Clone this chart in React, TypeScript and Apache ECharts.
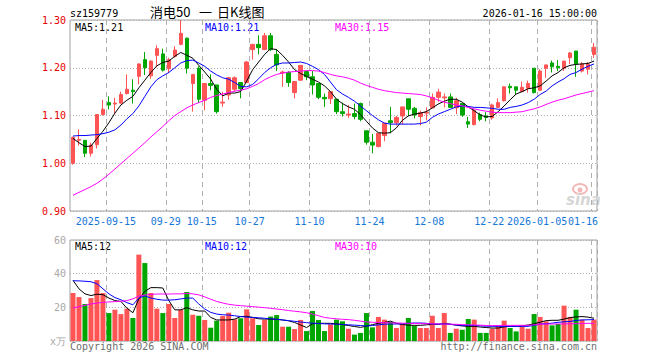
import React, { useEffect, useRef } from 'react';
import * as echarts from 'echarts';

const dates = [
  '2025-09-05','2025-09-08','2025-09-09','2025-09-10','2025-09-11','2025-09-12','2025-09-15','2025-09-16','2025-09-17','2025-09-18',
  '2025-09-19','2025-09-22','2025-09-23','2025-09-24','2025-09-25','2025-09-26','2025-09-29','2025-09-30','2025-10-09','2025-10-10',
  '2025-10-13','2025-10-14','2025-10-15','2025-10-16','2025-10-17','2025-10-20','2025-10-21','2025-10-22','2025-10-23','2025-10-24',
  '2025-10-27','2025-10-28','2025-10-29','2025-10-30','2025-10-31','2025-11-03','2025-11-04','2025-11-05','2025-11-06','2025-11-07',
  '2025-11-10','2025-11-11','2025-11-12','2025-11-13','2025-11-14','2025-11-17','2025-11-18','2025-11-19','2025-11-20','2025-11-21',
  '2025-11-24','2025-11-25','2025-11-26','2025-11-27','2025-11-28','2025-12-01','2025-12-02','2025-12-03','2025-12-04','2025-12-05',
  '2025-12-08','2025-12-09','2025-12-10','2025-12-11','2025-12-12','2025-12-15','2025-12-16','2025-12-17','2025-12-18','2025-12-19',
  '2025-12-22','2025-12-23','2025-12-24','2025-12-25','2025-12-26','2025-12-29','2025-12-30','2025-12-31','2026-01-05','2026-01-06',
  '2026-01-07','2026-01-08','2026-01-09','2026-01-12','2026-01-13','2026-01-14','2026-01-15','2026-01-16'
];

const tickDates = ['2025-09-15','2025-09-29','2025-10-15','2025-10-27','2025-11-10','2025-11-24','2025-12-08','2025-12-22','2026-01-05','2026-01-16'];
const tickLabels = ['2025-09-15','09-29','10-15','10-27','11-10','11-24','12-08','12-22','2026-01-05','01-16'];

const open = [
  1.000,1.048,1.048,1.021,1.039,1.102,1.127,1.124,1.126,1.146,
  1.153,1.182,1.217,1.183,1.226,1.229,1.198,1.224,1.249,1.262,
  1.167,1.199,1.132,1.167,1.164,1.126,1.143,1.155,1.169,1.169,
  1.238,1.249,1.238,1.267,1.228,1.189,1.190,1.148,1.174,1.192,
  1.181,1.167,1.138,1.135,1.134,1.108,1.101,1.104,1.125,1.068,
  1.044,1.035,1.058,1.089,1.085,1.099,1.135,1.115,1.098,1.105,
  1.116,1.138,1.137,1.139,1.116,1.125,1.087,1.081,1.102,1.099,
  1.095,1.117,1.131,1.161,1.160,1.150,1.157,1.199,1.153,1.199,
  1.210,1.203,1.199,1.221,1.235,1.193,1.197,1.228
];
const close = [
  1.054,1.050,1.021,1.038,1.102,1.113,1.122,1.126,1.144,1.155,
  1.150,1.208,1.200,1.214,1.240,1.195,1.217,1.237,1.272,1.199,
  1.186,1.134,1.167,1.163,1.108,1.128,1.179,1.179,1.156,1.212,
  1.249,1.242,1.267,1.238,1.206,1.191,1.169,1.171,1.205,1.181,
  1.164,1.138,1.135,1.150,1.108,1.104,1.103,1.098,1.092,1.044,
  1.038,1.063,1.084,1.085,1.096,1.118,1.113,1.101,1.106,1.107,
  1.138,1.149,1.139,1.117,1.131,1.101,1.082,1.111,1.092,1.096,
  1.122,1.127,1.160,1.158,1.153,1.159,1.167,1.148,1.193,1.206,
  1.202,1.200,1.214,1.231,1.208,1.208,1.208,1.243
];
const low = [
  0.997,1.037,1.013,1.014,1.031,1.100,1.113,1.103,1.124,1.144,
  1.125,1.165,1.185,1.177,1.201,1.192,1.189,1.221,1.247,1.188,
  1.108,1.126,1.111,1.153,1.104,1.118,1.133,1.150,1.136,1.168,
  1.217,1.228,1.237,1.235,1.193,1.160,1.160,1.136,1.173,1.174,
  1.144,1.134,1.118,1.124,1.103,1.098,1.095,1.092,1.088,1.039,
  1.021,1.033,1.046,1.063,1.079,1.081,1.099,1.094,1.079,1.090,
  1.116,1.129,1.117,1.116,1.103,1.097,1.074,1.079,1.088,1.088,
  1.091,1.116,1.129,1.146,1.143,1.150,1.148,1.146,1.151,1.179,
  1.190,1.193,1.193,1.208,1.181,1.190,1.186,1.221
];
const high = [
  1.056,1.071,1.048,1.043,1.103,1.133,1.140,1.137,1.150,1.186,
  1.176,1.209,1.233,1.215,1.247,1.240,1.221,1.245,1.300,1.263,
  1.187,1.203,1.168,1.186,1.164,1.150,1.181,1.182,1.169,1.214,
  1.250,1.268,1.273,1.273,1.238,1.194,1.193,1.172,1.205,1.194,
  1.193,1.167,1.146,1.150,1.134,1.127,1.122,1.125,1.127,1.068,
  1.061,1.063,1.084,1.118,1.099,1.118,1.135,1.118,1.110,1.117,
  1.146,1.156,1.146,1.146,1.137,1.125,1.097,1.113,1.106,1.107,
  1.125,1.136,1.161,1.167,1.160,1.171,1.173,1.199,1.197,1.206,
  1.215,1.216,1.214,1.233,1.235,1.212,1.212,1.252
];

const ma5 = [
  1.052,1.043,1.035,1.036,1.052,1.067,1.085,1.105,1.122,1.132,
  1.140,1.158,1.174,1.190,1.204,1.211,1.214,1.224,1.232,1.226,
  1.220,1.205,1.191,1.176,1.155,1.141,1.147,1.147,1.150,1.172,
  1.196,1.212,1.228,1.240,1.238,1.226,1.212,1.196,1.188,1.182,
  1.176,1.170,1.162,1.150,1.134,1.125,1.118,1.113,1.102,1.088,
  1.074,1.064,1.063,1.064,1.074,1.090,1.099,1.103,1.105,1.108,
  1.116,1.124,1.130,1.134,1.134,1.128,1.118,1.110,1.101,1.097,
  1.098,1.108,1.120,1.133,1.145,1.150,1.156,1.158,1.162,1.172,
  1.183,1.190,1.200,1.205,1.207,1.208,1.209,1.214
];
const ma10 = [
  1.057,1.058,1.058,1.059,1.060,1.062,1.065,1.070,1.080,1.093,
  1.104,1.120,1.140,1.160,1.175,1.183,1.190,1.200,1.210,1.215,
  1.216,1.210,1.203,1.193,1.185,1.179,1.176,1.169,1.161,1.160,
  1.165,1.177,1.190,1.200,1.207,1.210,1.210,1.211,1.212,1.209,
  1.203,1.196,1.186,1.170,1.154,1.145,1.138,1.130,1.120,1.110,
  1.100,1.091,1.084,1.082,1.082,1.082,1.082,1.082,1.083,1.086,
  1.096,1.103,1.108,1.113,1.118,1.120,1.119,1.117,1.117,1.116,
  1.115,1.113,1.113,1.117,1.119,1.122,1.127,1.134,1.144,1.151,
  1.162,1.170,1.177,1.186,1.190,1.197,1.203,1.208
];
const ma30 = [
  0.933,0.939,0.945,0.951,0.958,0.967,0.977,0.988,0.999,1.010,
  1.021,1.032,1.043,1.055,1.066,1.077,1.089,1.100,1.108,1.116,
  1.122,1.127,1.132,1.138,1.142,1.145,1.148,1.151,1.153,1.156,
  1.161,1.167,1.175,1.181,1.186,1.189,1.191,1.192,1.193,1.194,
  1.194,1.193,1.190,1.186,1.183,1.181,1.178,1.174,1.168,1.163,
  1.159,1.155,1.152,1.150,1.148,1.147,1.146,1.145,1.144,1.141,
  1.137,1.132,1.128,1.125,1.122,1.120,1.117,1.114,1.111,1.109,
  1.107,1.106,1.106,1.106,1.107,1.108,1.111,1.114,1.118,1.123,
  1.128,1.132,1.135,1.139,1.143,1.146,1.149,1.152
];

const volume = [
  28.5,26.1,22.0,25.5,36.2,28.5,16.6,18.6,16.0,19.2,
  13.7,51.3,46.3,28.5,19.2,16.6,22.0,13.7,18.6,29.1,
  15.6,15.0,12.5,7.9,12.1,14.9,16.8,12.9,13.5,18.8,
  13.5,9.5,12.5,14.5,15.4,8.5,8.5,7.1,12.5,5.9,
  17.8,12.5,5.9,9.9,12.7,11.7,7.3,3.8,4.8,16.6,
  8.1,14.3,12.7,11.3,7.7,10.1,13.7,9.1,7.7,7.7,
  15.0,7.7,16.6,4.8,7.3,6.7,13.1,12.7,4.8,4.8,
  7.3,8.7,12.1,7.7,5.7,8.7,7.3,16.0,14.3,11.7,
  9.3,10.1,21.0,14.3,18.6,12.7,7.7,12.7
];
const vma5 = [
  36.0,31.0,28.0,27.0,27.8,27.5,25.5,24.0,23.5,19.5,
  16.8,25.0,29.5,31.7,31.7,31.5,24.0,18.5,18.5,19.8,
  18.5,17.8,17.8,14.0,12.5,12.5,12.5,13.0,14.5,14.7,
  14.0,13.2,13.0,13.0,12.9,12.5,12.0,11.0,9.5,8.0,
  10.2,10.5,10.5,10.5,10.2,9.8,9.2,8.6,8.1,8.8,
  9.7,10.5,11.0,11.8,10.5,9.8,9.4,9.3,9.3,9.6,
  10.0,9.8,10.5,10.0,9.4,8.9,8.7,8.7,8.3,8.0,
  7.7,7.7,8.4,8.7,8.7,9.0,9.5,10.2,11.2,12.1,
  12.3,12.3,13.0,13.9,14.3,14.5,14.2,13.5
];
const vma10 = [
  35.8,35.7,35.5,35.2,34.0,31.0,28.0,25.8,24.5,22.8,
  21.5,25.5,26.8,25.5,24.8,24.3,24.3,24.5,25.0,25.5,
  25.5,22.0,19.0,17.0,16.0,15.6,15.4,15.0,14.5,14.2,
  14.0,13.8,13.5,13.2,12.9,12.5,12.1,11.7,11.3,10.9,
  10.6,10.4,10.2,10.1,10.0,9.8,9.6,9.4,9.2,8.9,
  9.2,9.6,10.0,10.1,10.1,10.2,10.5,10.7,10.7,10.5,
  10.1,10.1,10.1,9.9,9.5,9.3,9.3,9.2,9.0,8.8,
  8.7,8.7,8.7,8.7,8.7,8.7,8.7,9.3,10.1,10.2,
  10.6,11.1,11.4,11.6,12.2,12.5,12.6,12.7
];
const vma30 = [
  19.6,20.4,21.2,22.0,22.5,23.0,23.2,23.4,23.6,24.0,
  25.0,26.7,27.3,27.7,27.9,27.9,27.9,28.0,28.0,28.3,
  28.0,27.4,26.2,24.8,23.5,22.6,21.8,21.3,21.0,20.7,
  20.4,20.1,19.8,19.4,19.0,18.6,18.1,17.7,17.3,16.8,
  16.0,15.0,14.0,13.5,13.2,12.9,12.7,12.3,11.8,11.3,
  11.1,11.0,10.9,10.8,10.7,10.6,10.5,10.4,10.3,10.3,
  10.2,10.1,10.1,10.0,9.9,9.8,9.6,9.5,9.4,9.2,
  9.1,9.2,9.3,9.3,9.3,9.3,9.3,9.6,10.0,10.1,
  10.1,10.1,10.1,10.2,10.3,10.4,10.5,10.5
];

const MONO = 'DejaVu Sans Mono';
const UP = '#ff5454';
const DOWN = '#00a600';
const GRID_LINE = '#b0b0b0';
const XLABEL = '#1677d8';
const LAST_DATE = '2026-01-16';

function txt(text: string, x: number, y: number, color: string, extra: any = {}) {
  const align = extra.align || 'left';
  return {
    type: 'text',
    x,
    y,
    silent: true,
    style: {
      text,
      fill: color,
      fontFamily: extra.fontFamily || MONO,
      fontSize: extra.fontSize || 10,
      fontStyle: extra.fontStyle || 'normal',
      fontWeight: extra.fontWeight || 'normal',
      align,
      verticalAlign: 'middle',
      textAlign: align,
      textVerticalAlign: 'middle',
    },
  };
}

export default function App() {
  const ref = useRef<HTMLDivElement>(null);
  useEffect(() => {
    if (!ref.current) return;
    const chart = echarts.init(ref.current, null, { renderer: 'svg' });
    const labelMap: Record<string, string> = {};
    tickDates.forEach((d, i) => { labelMap[d] = tickLabels[i]; });
    const showTick = (_idx: number, val: string) => val in labelMap;
    const showLabel = (_idx: number, val: string) => val in labelMap && val !== LAST_DATE;
    const kData = dates.map((_, i) => [open[i], close[i], low[i], high[i]]);
    const volData = volume.map((v, i) => ({
      value: v,
      itemStyle: { color: close[i] >= open[i] ? UP : DOWN },
    }));

    const xBase = (gridIndex: number, show: boolean) => ({
      type: 'category',
      gridIndex,
      data: dates,
      boundaryGap: true,
      axisLine: { show: false },
      axisTick: { show: false },
      axisLabel: {
        show,
        interval: showLabel,
        formatter: (v: string) => labelMap[v] || '',
        color: XLABEL,
        fontFamily: MONO,
        fontSize: 10,
        margin: 5,
        padding: [0, 6, 0, 0],
      },
      splitLine: {
        show: true,
        interval: showTick,
        lineStyle: { color: GRID_LINE, type: [5, 4], width: 1 },
      },
    });

    const lineSeries = (name: string, data: number[], color: string, axis: number) => ({
      name,
      type: 'line',
      xAxisIndex: axis,
      yAxisIndex: axis,
      data,
      symbol: 'none',
      showSymbol: false,
      silent: true,
      lineStyle: { color, width: 1 },
      z: 5,
    });

    chart.setOption({
      animation: false,
      backgroundColor: '#ffffff',
      grid: [
        { left: 70, top: 20, width: 527, height: 191, show: true, borderColor: '#a0a0a0', borderWidth: 1, backgroundColor: 'transparent' },
        { left: 70, top: 240, width: 527, height: 101, show: true, borderColor: '#a0a0a0', borderWidth: 1, backgroundColor: 'transparent' },
      ],
      xAxis: [xBase(0, true), xBase(1, false)],
      yAxis: [
        {
          type: 'value',
          gridIndex: 0,
          min: 0.9,
          max: 1.3,
          interval: 0.1,
          axisLine: { show: false },
          axisTick: { show: false },
          axisLabel: {
            formatter: (v: number) => v.toFixed(2),
            color: '#e60000',
            fontFamily: MONO,
            fontSize: 10,
            margin: 4,
          },
          splitLine: { show: true, lineStyle: { color: GRID_LINE, type: [1, 2], width: 1 } },
        },
        {
          type: 'value',
          gridIndex: 1,
          min: 0,
          max: 60,
          interval: 20,
          axisLine: { show: false },
          axisTick: { show: false },
          axisLabel: {
            formatter: (v: number) => (v === 0 ? 'x万' : String(v)),
            color: '#a8a8a8',
            fontFamily: MONO,
            fontSize: 10,
            margin: 4,
          },
          splitLine: { show: true, lineStyle: { color: GRID_LINE, type: [1, 2], width: 1 } },
        },
      ],
      series: [
        {
          name: 'K',
          type: 'candlestick',
          xAxisIndex: 0,
          yAxisIndex: 0,
          data: kData,
          barWidth: 4,
          silent: true,
          itemStyle: {
            color: UP,
            color0: DOWN,
            borderColor: UP,
            borderColor0: DOWN,
            borderWidth: 1,
          },
        },
        lineSeries('MA5', ma5, '#000000', 0),
        lineSeries('MA10', ma10, '#0000ff', 0),
        lineSeries('MA30', ma30, '#ff00ff', 0),
        {
          name: 'VOL',
          type: 'bar',
          xAxisIndex: 1,
          yAxisIndex: 1,
          data: volData,
          barWidth: 5,
          silent: true,
        },
        lineSeries('VMA5', vma5, '#000000', 1),
        lineSeries('VMA10', vma10, '#0000ff', 1),
        lineSeries('VMA30', vma30, '#ff00ff', 1),
      ],
      graphic: [
        txt('sz159779', 70, 13, '#000000'),
        txt('消电50', 150, 11, '#000000', { fontFamily: 'Noto Sans CJK SC', fontSize: 13 }),
        txt('一', 199, 11, '#000000', { fontFamily: 'Noto Sans CJK SC', fontSize: 13 }),
        txt('日K线图', 217, 11, '#000000', { fontFamily: 'Noto Sans CJK SC', fontSize: 13 }),
        txt('2026-01-16 15:00:00', 597, 13, '#000000', { align: 'right' }),
        txt(labelMap[LAST_DATE], 598, 221, XLABEL, { align: 'right' }),
        txt('MA5:1.21', 75, 27, '#000000'),
        txt('MA10:1.21', 205, 27, '#0000ff'),
        txt('MA30:1.15', 335, 27, '#ff00ff'),
        txt('MA5:12', 75, 246, '#000000'),
        txt('MA10:12', 205, 246, '#0000ff'),
        txt('MA30:10', 335, 246, '#ff00ff'),
        txt('Copyright 2026 SINA.COM', 70, 346, '#6e6e6e'),
        txt('http://finance.sina.com.cn', 597, 346, '#6e6e6e', { align: 'right' }),
        {
          type: 'ellipse',
          silent: true,
          shape: { cx: 580, cy: 189, rx: 7, ry: 5 },
          style: { fill: 'none', stroke: '#f2b6b6', lineWidth: 2 },
        },
        {
          type: 'circle',
          silent: true,
          shape: { cx: 580, cy: 190, r: 2.5 },
          style: { fill: '#f2b6b6' },
        },
        txt('sina', 566, 200, '#d6d6d6', { fontFamily: 'DejaVu Sans', fontSize: 15, fontStyle: 'italic', fontWeight: 'bold' }),
      ],
    });
    return () => { chart.dispose(); };
  }, []);
  return <div ref={ref} style={{ position: 'fixed', left: 0, top: 0, width: 660, height: 360 }} />;
}
